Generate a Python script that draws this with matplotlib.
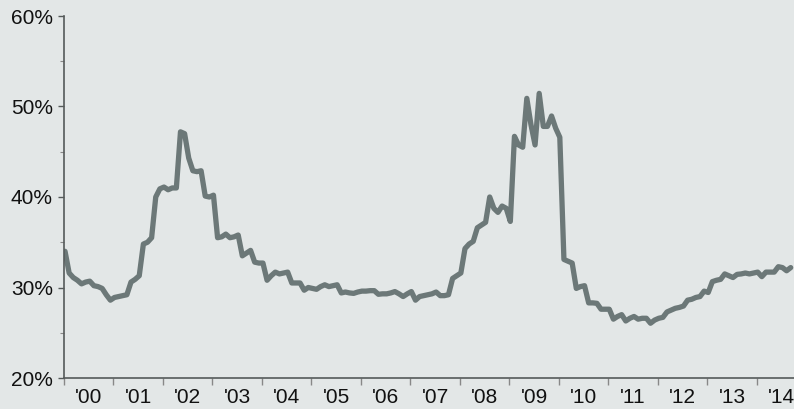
import matplotlib
matplotlib.use("Agg")
import matplotlib.pyplot as plt
from matplotlib.ticker import FixedLocator, FuncFormatter

# Monthly values (%), Jan 2000 onward
values = [
    34.0, 31.6, 31.1, 30.8, 30.4, 30.6, 30.7, 30.2, 30.1, 29.9, 29.2, 28.6,   # 2000
    28.9, 29.0, 29.1, 29.2, 30.6, 30.9, 31.3, 34.8, 35.0, 35.5, 40.0, 40.9,   # 2001
    41.1, 40.8, 41.0, 41.0, 47.2, 47.0, 44.3, 42.9, 42.8, 42.9, 40.1, 40.0,   # 2002
    40.2, 35.5, 35.6, 35.9, 35.5, 35.6, 35.8, 33.5, 33.8, 34.1, 32.8, 32.7,   # 2003
    32.7, 30.8, 31.3, 31.7, 31.5, 31.6, 31.7, 30.5, 30.5, 30.5, 29.7, 30.0,   # 2004
    29.9, 29.8, 30.1, 30.3, 30.1, 30.2, 30.3, 29.4, 29.5, 29.4, 29.35, 29.5,  # 2005
    29.6, 29.6, 29.65, 29.65, 29.25, 29.3, 29.3, 29.4, 29.55, 29.3, 29.0, 29.3,  # 2006
    29.55, 28.6, 29.0, 29.1, 29.2, 29.3, 29.5, 29.1, 29.1, 29.2, 31.0, 31.3,  # 2007
    31.6, 34.3, 34.8, 35.1, 36.6, 36.9, 37.2, 40.0, 38.75, 38.3, 39.0, 38.75, # 2008
    37.3, 46.7, 45.75, 45.5, 50.9, 48.0, 45.75, 51.45, 47.8, 47.8, 48.95, 47.6,  # 2009
    46.6, 33.1, 32.9, 32.7, 29.9, 30.1, 30.2, 28.3, 28.3, 28.25, 27.6, 27.6,  # 2010
    27.6, 26.5, 26.8, 27.0, 26.3, 26.6, 26.8, 26.5, 26.6, 26.6, 26.05, 26.4,  # 2011
    26.6, 26.7, 27.3, 27.5, 27.7, 27.8, 27.95, 28.6, 28.7, 28.9, 29.0, 29.6,  # 2012
    29.45, 30.65, 30.8, 30.9, 31.5, 31.3, 31.1, 31.45, 31.5, 31.6, 31.5, 31.6,  # 2013
    31.7, 31.2, 31.7, 31.7, 31.7, 32.3, 32.2, 31.85, 32.2,                      # 2014
]
year_labels = ["'00", "'01", "'02", "'03", "'04", "'05", "'06", "'07",
               "'08", "'09", "'10", "'11", "'12", "'13", "'14"]
y_ticks = [20, 30, 40, 50, 60]

plt.rcParams['font.family'] = ['Liberation Sans', 'DejaVu Sans']

bg = '#e3e7e7'
line_color = '#6c7878'
spine_color = '#555a5a'

fig = plt.figure(figsize=(7.94, 4.09), dpi=100, facecolor=bg)
ax = fig.add_axes([64/794, 31/409, 730/794, 362/409])
ax.set_facecolor(bg)

months = list(range(len(values)))
ax.plot(months, values, color=line_color, linewidth=3.8,
        solid_joinstyle='round', solid_capstyle='round')

ax.set_ylim(20, 60)
ax.set_xlim(-0.25, 176.8)

for s in ['top', 'right']:
    ax.spines[s].set_visible(False)
for s in ['left', 'bottom']:
    ax.spines[s].set_color(spine_color)
    ax.spines[s].set_linewidth(1.2)

ax.yaxis.set_major_locator(FixedLocator(y_ticks))
ax.yaxis.set_minor_locator(FixedLocator([25, 35, 45, 55]))
ax.yaxis.set_major_formatter(FuncFormatter(lambda v, p: f"{int(v)}%"))
ax.tick_params(axis='y', which='major', length=4, width=1, color=spine_color,
               pad=4, labelsize=15, labelcolor='#111111')
ax.tick_params(axis='y', which='minor', length=3, width=0.8, color='#888888')

n_years = len(year_labels)
ax.xaxis.set_major_locator(FixedLocator([12 * k + 5.75 for k in range(n_years)]))
ax.xaxis.set_minor_locator(FixedLocator([12 * k - 0.25 for k in range(n_years)]))
ax.set_xticklabels(year_labels)
ax.tick_params(axis='x', which='major', length=0, pad=7, labelsize=15,
               labelcolor='#111111')
ax.tick_params(axis='x', which='minor', length=5, width=1, color='#888888')

fig.savefig('out.png', dpi=100, facecolor=bg)
